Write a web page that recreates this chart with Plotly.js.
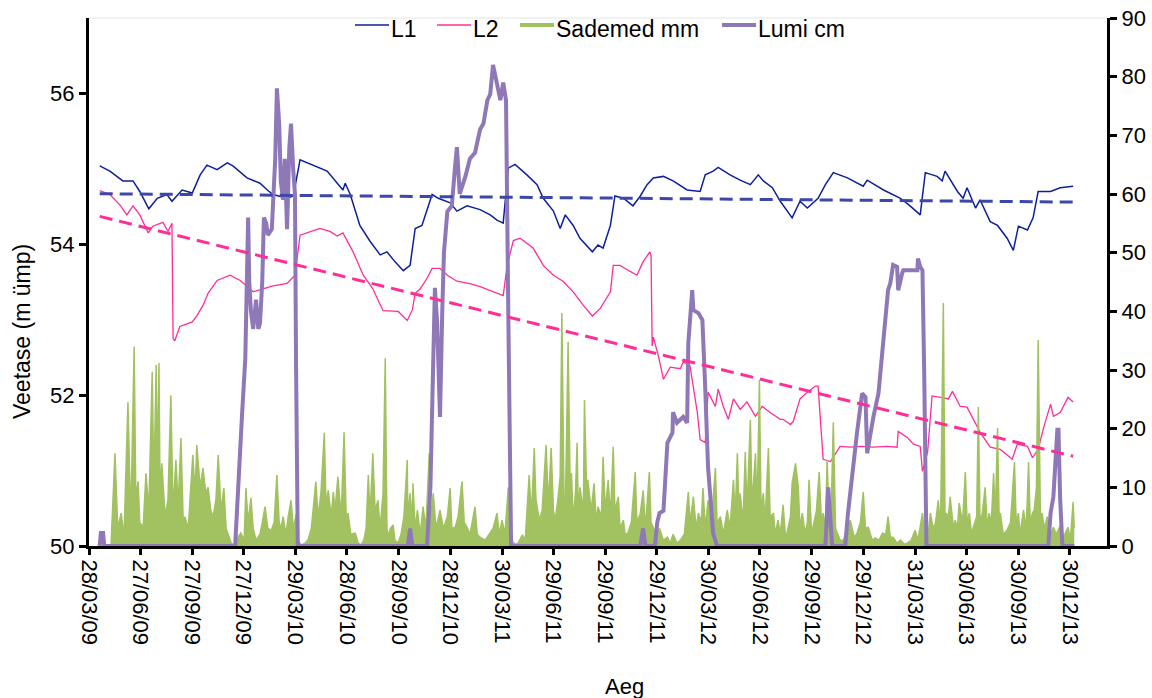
<!DOCTYPE html>
<html>
<head>
<meta charset="utf-8">
<script src="https://cdn.plot.ly/plotly-3.0.1.min.js"></script>
<style>html,body{margin:0;padding:0;background:#fff;}#chart{width:1152px;height:698px;}</style>
</head>
<body>
<div id="chart"></div>
<script>
// ---- DATA (day numbers counted from 28/03/2009) ----
const startDate = '2009-03-28';
const tickDates = ['2009-03-28','2009-06-27','2009-09-27','2009-12-27','2010-03-29','2010-06-28','2010-09-28','2010-12-28','2011-03-30','2011-06-29','2011-09-29','2011-12-29','2012-03-30','2012-06-29','2012-09-29','2012-12-29','2013-03-31','2013-06-30','2013-09-30','2013-12-30'];
const tickLabels = ['28/03/09','27/06/09','27/09/09','27/12/09','29/03/10','28/06/10','28/09/10','28/12/10','30/03/11','29/06/11','29/09/11','29/12/11','30/03/12','29/06/12','29/09/12','29/12/12','31/03/13','30/06/13','30/09/13','30/12/13'];
const seriesNames = ['L1', 'L2', 'Sademed mm', 'Lumi cm'];

const l1Day = [19,37,60,78,90,106,121,138,147,165,183,197,209,227,245,255,280,303,316,326,351,362,374,397,422,440,450,454,463,480,498,516,528,542,557,569,578,590,596,608,619,640,652,670,693,711,723,734,743,755,776,794,805,823,835,844,858,870,892,902,911,924,932,947,964,977,989,1000,1018,1035,1060,1083,1092,1106,1115,1136,1154,1172,1186,1195,1211,1225,1246,1260,1273,1292,1305,1319,1344,1372,1379,1408,1438,1455,1473,1482,1503,1512,1517,1539,1549,1556,1571,1579,1597,1610,1627,1638,1647,1663,1673,1682,1704,1721,1744];
const l1 = [55.04,54.97,54.84,54.84,54.70,54.47,54.61,54.66,54.57,54.72,54.68,54.92,55.05,54.99,55.08,55.04,54.88,54.81,54.72,54.66,54.61,54.64,55.12,55.05,54.97,54.81,54.72,54.81,54.66,54.25,54.04,53.86,53.90,53.77,53.65,53.72,54.21,54.25,54.39,54.66,54.61,54.55,54.44,54.51,54.46,54.39,54.32,54.28,55.01,55.06,54.92,54.79,54.61,54.44,54.21,54.39,54.25,54.08,53.90,53.99,53.95,54.25,54.64,54.61,54.51,54.64,54.79,54.88,54.90,54.84,54.72,54.70,54.92,54.97,55.02,54.92,54.85,54.79,54.92,54.84,54.75,54.57,54.35,54.57,54.48,54.61,54.79,54.95,54.88,54.77,54.85,54.72,54.61,54.51,54.39,54.95,54.90,54.84,54.97,54.70,54.61,54.75,54.48,54.59,54.30,54.25,54.08,53.92,54.24,54.19,54.35,54.70,54.70,54.75,54.77];

const l2Day = [19,37,55,67,78,90,105,113,131,140,147,149,152,161,183,191,202,211,227,250,268,291,308,326,351,365,374,392,409,427,440,450,468,486,503,521,548,564,573,578,587,599,608,622,635,652,675,693,716,734,741,752,764,787,805,823,840,858,876,892,906,924,929,941,959,971,982,994,996,998,1000,1009,1018,1030,1048,1053,1065,1078,1083,1092,1097,1110,1115,1124,1133,1142,1154,1166,1181,1193,1207,1225,1230,1243,1248,1260,1273,1287,1292,1301,1314,1331,1349,1367,1390,1415,1432,1434,1450,1461,1473,1477,1486,1494,1509,1523,1530,1544,1556,1567,1579,1597,1615,1636,1645,1663,1672,1682,1691,1704,1709,1721,1735,1744];
const l2 = [54.71,54.66,54.52,54.39,54.51,54.39,54.15,54.24,54.29,54.17,54.28,52.75,52.72,52.91,52.97,53.05,53.19,53.35,53.52,53.59,53.52,53.37,53.41,53.45,53.48,53.59,54.12,54.17,54.21,54.17,54.11,54.15,53.90,53.59,53.41,53.12,53.11,52.99,53.13,53.35,53.41,53.55,53.68,53.68,53.59,53.51,53.48,53.44,53.37,53.32,53.72,54.05,54.08,53.95,53.72,53.59,53.51,53.37,53.19,53.05,53.15,53.37,53.72,53.72,53.64,53.59,53.77,53.90,53.85,52.65,52.77,52.52,52.21,52.37,52.35,52.44,52.39,51.77,51.41,51.37,52.04,51.85,52.08,51.85,51.68,51.95,51.81,51.91,51.72,51.85,51.77,51.68,51.68,51.61,51.65,51.95,52.04,52.12,52.12,51.15,51.12,51.32,51.31,51.32,51.31,51.32,51.31,51.52,51.44,51.35,51.32,50.99,51.24,51.99,51.97,51.95,52.05,51.85,51.84,51.68,51.51,51.31,51.28,51.15,51.35,51.32,51.17,51.28,51.55,51.88,51.72,51.77,51.97,51.91];

const lumiDay = [19,21,25,27,259,264,271,277,280,282,284,287,291,296,300,303,307,310,314,317,324,330,333,337,340,344,347,351,355,358,362,365,367,370,565,569,573,599,605,610,613,617,622,626,629,635,643,649,652,657,667,675,684,693,699,706,711,716,723,729,734,739,743,748,977,982,986,1003,1007,1011,1018,1025,1034,1035,1042,1053,1060,1062,1069,1071,1080,1087,1092,1097,1106,1113,1305,1310,1317,1340,1345,1354,1361,1370,1376,1379,1384,1390,1399,1406,1412,1416,1420,1425,1432,1434,1441,1443,1468,1469,1473,1477,1480,1484,1700,1704,1709,1716,1718,1721,1725,1746];
const lumiCm = [0,2.2,2.2,0,0,10,22,32,45,56,45,40,37,42,37,38,45,56,55,53,54,66,78,72,62,59,66,54,68,72,64,60,30,0,0,3,0,0,10,31,44,38,22,40,50,57,58,65,68,60,63,66,67,71,72,76,77,82,79,76,79,76,40,0,0,3,0,0,4,5.6,6,17.6,19.3,22.8,21,22,21,34.6,43.6,40.2,39.7,38.5,27,13.5,2.2,0,0,10,0,0,5.6,14,19.3,26,25.4,15.8,18.6,22,26,33,38,43.6,44.8,47.9,47.6,43.6,46.5,47,47,49,47.6,47,30,0,0,5.6,8.4,19.8,19.8,8,0,0];

const sademedDay = [19,39,46,51,57,62,69,74,80,83, 87,90,96,101,106,112,115,119,121,124, 126,129,135,140,145,149,154,158,163,167, 170,176,179,184,188,191,197,202,207,211, 216,220,225,229,234,239,243,246,252,259, 264,269,275,278,282,287,291,296,303,307, 312,317,323,328,333,337,340,344,349,353, 358,362,367,370,376,383,388,394,397,402, 406,411,417,420,424,429,433,436,441,447, 452,456,459,464,472,477,482,487,491,495, 498,503,507,512,516,521,525,528,530,534, 539,542,548,553,558,564,565,569,573,574, 578,582,587,592,597,603,606,610,615,619, 622,628,635,640,643,649,654,661,665,670, 675,679,684,688,693,702,711,716,723,727, 732,737,743,746,752,759,768,773,780,784, 789,792,798,803,810,814,819,823,826,831, 835,838,842,844,849,853,855,858,862,865, 867,870,876,878,883,884,890,895,899,902, 908,911,915,920,924,929,932,938,941,947, 950,955,961,968,971,977,982,986,993,996, 1000,1005,1011,1018,1025,1030,1035,1042,1048,1055, 1062,1065,1071,1076,1080,1085,1088,1092,1097,1103, 1110,1113,1119,1124,1131,1136,1142,1145,1149,1152, 1154,1159,1163,1166,1172,1175,1181,1184,1188,1191, 1195,1198,1204,1207,1213,1216,1221,1225,1230,1234, 1237,1243,1246,1252,1257,1260,1264,1269,1273,1276, 1280,1283,1289,1294,1298,1301,1305,1308,1312,1315, 1319,1323,1326,1331,1337,1344,1349,1356,1361,1367, 1372,1376,1381,1388,1393,1400,1406,1412,1416,1420, 1425,1432,1438,1445,1450,1457,1464,1469,1477,1482, 1487,1491,1496,1500,1505,1509,1514,1517,1519,1523, 1526,1532,1535,1539,1542,1548,1553,1556,1560,1564, 1567,1573,1576,1579,1583,1588,1592,1595,1599,1603, 1606,1610,1613,1615,1620,1627,1633,1640,1643,1647, 1650,1656,1661,1665,1668,1672,1675,1679,1682,1686, 1689,1693,1698,1704,1709,1714,1721,1727,1730,1735, 1739,1744,1746];
const sademedMm = [0,0,15.8,3,5.6,1.5,24.5,4,34,8, 11,4,3.3,12.4,6,29.7,10,30.9,12,31.2, 8,14.1,5,8,25.7,6,14.7,7,18.4,4, 5,3,8,15.5,9,17.2,10,13.3,9,10, 6,5,8,15.5,6,9.9,3,2.2,0.5,0, 1.5,2.2,1,9.9,4,8.2,3,1,2,4, 6.7,3,2.7,4,12.1,4,3,5,2,5, 7.8,3,5.3,1,0.2,0.5,1,3,6,11, 5,9,19.3,7,9.5,5,9.2,6,11.8,5, 19.4,4,5.6,2,2.2,0.5,0.2,1,3,12.1, 5,15.8,6,7.8,3,9,32,3,1.5,3, 3.6,1,0.5,2,5,14.7,5,9,4,10.7, 3,6.1,2,6.7,3,15.8,4,9,3,5, 6.1,3,5,9.9,3,3.2,5,11,4,3.2, 2,4,6.7,2,1.5,1,2.2,3,5.6,2, 4.4,2,10,2,0.5,0.3,1.9,1,12.1,5, 16.7,8,4.4,6,17.2,7,16.7,6,4.4,8, 12,39.7,6,5.6,34.8,8,12.4,4.4,9,17.6, 6,10,6,24.9,5,11.3,6,10.7,4,6.7, 5,15.2,6,11.3,5,16.9,6,8.4,3,4.4, 2,2.2,4,12.6,4,5.6,9.5,3,12.6,4, 3.2,2,3,1,1.5,0.5,2,0.5,1,2, 9.2,4,8.4,3,5.6,4,9.9,3,7.8,4, 13.3,4,5,2,6.1,3,11.3,5,15.8,5, 9,4,16,6,21.5,7,15.8,6,28.3,6, 9,4,16.7,5,5.6,2,4.4,2,7,2, 2.2,5,10.7,14.1,10,3,5.6,2.2,4,11.3, 3,3.2,6,12.6,4,5.6,3,14.7,4,5, 21.1,3,2.2,1,1,3,4.4,1.5,2.2,4, 9.2,3,3.2,1,1.4,1,2.2,2,5,1.5, 1.5,0.5,1,0.3,0.5,1,2.7,1,5.6,0.5, 2,5.6,3,3.9,7.8,3,41.4,4,5.6,5, 8.4,3,4.4,3,7.3,4,12.6,4,5.6,2, 3.2,5,23.7,4,5.6,10,3,5.6,4,12.4, 5,20.1,4,5.6,2,2.7,4,14.3,4,5.6, 2,6.1,3,14.3,4,5.6,6.1,10,35.1,5, 5.6,3,5,2,3.2,2,3.5,1,2.2,3.2, 1,7.5,3];

const trendDay = [19, 1744];
const trendL1 = [54.67, 54.56];
const trendL2 = [54.37, 51.19];

// ---- helpers / styles ----
const t0 = Date.parse(startDate + 'T00:00:00Z');
const toDate = d => new Date(t0 + d * 86400000).toISOString().slice(0, 10);
const dates = arr => arr.map(toDate);

const FONT = 'Liberation Sans, Arial, Helvetica, sans-serif';
const C_L1 = '#0F1F9C', C_L2 = '#FF2E96', C_RAIN = '#A2C160', C_SNOW = '#8F78B7';
const seriesColors = [C_L1, C_L2, C_RAIN, C_SNOW];
const legendLineWidths = [1.5, 1.5, 4, 4];

const traces = [
  {x: dates(l1Day), y: l1, type: 'scatter', mode: 'lines', name: seriesNames[0], yaxis: 'y',
   line: {color: C_L1, width: 1.5}},
  {x: dates(l2Day), y: l2, type: 'scatter', mode: 'lines', name: seriesNames[1], yaxis: 'y',
   line: {color: C_L2, width: 1.3}},
  {x: dates(sademedDay), y: sademedMm, type: 'scatter', mode: 'lines', name: seriesNames[2], yaxis: 'y2',
   line: {color: C_RAIN, width: 1.5}, fill: 'tozeroy', fillcolor: C_RAIN},
  {x: dates(lumiDay), y: lumiCm, type: 'scatter', mode: 'lines', name: seriesNames[3], yaxis: 'y2',
   line: {color: C_SNOW, width: 4}},
  {x: dates(trendDay), y: trendL1, type: 'scatter', mode: 'lines', yaxis: 'y3', name: 'L1 trend',
   line: {color: '#3D47A9', width: 3, dash: '13px,7px'}},
  {x: dates(trendDay), y: trendL2, type: 'scatter', mode: 'lines', yaxis: 'y3', name: 'L2 trend',
   line: {color: '#FF2E96', width: 3, dash: '13px,7px'}}
];

// plot-area geometry used to place the hand-built legend
const PL = 89, PR = 1107, PT = 18, PB = 546;
const px2x = p => (p - PL) / (PR - PL);
const px2y = p => (PB - p) / (PB - PT);
const legendLineStart = [355, 437, 520, 722];
const legendLineLen = 34;
const legendLineY = 25, legendTextY = 28.5;

const shapes = [{type: 'line', xref: 'paper', yref: 'paper', x0: 0, x1: 1, y0: 1, y1: 1,
  line: {color: '#e4e4e4', width: 1}}];
const annotations = [
  {text: 'Veetase (m ümp)', xref: 'paper', yref: 'paper', x: px2x(22), y: px2y(332), textangle: -90,
   showarrow: false, font: {family: FONT, size: 23, color: '#000'}, xanchor: 'center', yanchor: 'middle'},
  {text: 'Aeg', xref: 'paper', yref: 'paper', x: px2x(624), y: px2y(686), showarrow: false,
   font: {family: FONT, size: 22, color: '#000'}, xanchor: 'center', yanchor: 'middle'}
];
seriesNames.forEach((name, i) => {
  const x0 = legendLineStart[i];
  shapes.push({type: 'line', xref: 'paper', yref: 'paper', x0: px2x(x0), x1: px2x(x0 + legendLineLen),
    y0: px2y(legendLineY), y1: px2y(legendLineY), line: {color: seriesColors[i], width: legendLineWidths[i]}});
  annotations.push({text: name, xref: 'paper', yref: 'paper', x: px2x(x0 + legendLineLen + 1), y: px2y(legendTextY),
    xanchor: 'left', yanchor: 'middle', showarrow: false, borderpad: 0,
    font: {family: FONT, size: 23, color: '#000'}});
});

const axisCommon = {showline: true, linewidth: 3, linecolor: '#000', ticks: 'outside', ticklen: 7,
  tickwidth: 3, tickcolor: '#000', showgrid: false, zeroline: false,
  tickfont: {family: FONT, size: 22, color: '#000'}};

const layout = {
  width: 1152, height: 698,
  margin: {l: PL, r: 1152 - PR, t: PT, b: 698 - PB, pad: 0},
  paper_bgcolor: '#fff', plot_bgcolor: '#fff',
  font: {family: FONT, size: 22, color: '#000'},
  showlegend: false,
  xaxis: Object.assign({}, axisCommon, {type: 'date', range: ['2009-03-28', '2014-03-06'],
    tickmode: 'array', tickvals: tickDates, ticktext: tickLabels, tickangle: 90, ticklen: 6,
    layer: 'below traces'}),
  yaxis: Object.assign({}, axisCommon, {range: [50, 57], tickmode: 'array', tickvals: [50, 52, 54, 56]}),
  yaxis2: Object.assign({}, axisCommon, {overlaying: 'y', side: 'right', range: [0, 90], tick0: 0, dtick: 10}),
  yaxis3: {overlaying: 'y', range: [50, 57], visible: false},
  shapes: shapes,
  annotations: annotations
};

Plotly.newPlot('chart', traces, layout, {displayModeBar: false, staticPlot: true});
</script>
</body>
</html>
